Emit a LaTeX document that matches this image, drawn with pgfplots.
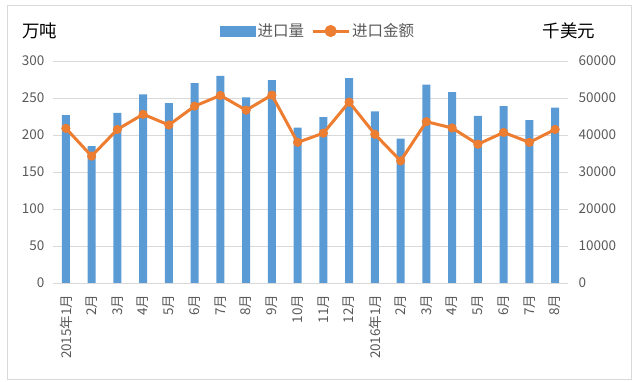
\documentclass[border=0pt]{standalone}
\usepackage{pgfplots}
\pgfplotsset{compat=1.18}
\usepackage{fontspec}
\setmainfont{Noto Sans CJK SC}
\definecolor{barblue}{HTML}{5B9BD5}
\definecolor{lineorange}{HTML}{ED7D31}
\definecolor{gridgray}{HTML}{D9D9D9}
\definecolor{ticktext}{HTML}{595959}
\begin{document}
\begin{tikzpicture}[x=1pt,y=1pt]
\useasboundingbox (0,0) rectangle (635,382);
\draw[gridgray, line width=1pt] (7,2) rectangle (631,376);
\pgfplotsset{common/.style={scale only axis, width=515pt, height=222pt, at={(53pt,99pt)}, anchor=south west,
  xmin=-0.5, xmax=19.5, major tick length=0,
  tick label style={font=\fontsize{13.5}{15}\selectfont, text=ticktext},
  /pgf/number format/assume math mode=true, scaled y ticks=false,
  /pgf/number format/1000 sep={}}}
\begin{axis}[common, ybar, bar width=8pt, ymin=0, ymax=300, ytick={0,50,...,300},
  ymajorgrids, grid style={gridgray, line width=0.8pt},
  axis x line*=bottom, axis y line*=left, y axis line style={draw=none},
  x axis line style={gridgray, line width=0.8pt, -},
  xtick={0,...,19},
  xticklabels={2015年1月,2月,3月,4月,5月,6月,7月,8月,9月,10月,11月,12月,2016年1月,2月,3月,4月,5月,6月,7月,8月},
  x tick label style={rotate=90, anchor=east}, xticklabel shift=8pt, yticklabel shift=5pt]
\addplot[fill=barblue, draw=none] coordinates {
(0,227) (1,185) (2,230) (3,255) (4,243) (5,270) (6,280) (7,251) (8,274) (9,210)
(10,224) (11,277) (12,232) (13,195) (14,268) (15,258) (16,226) (17,239) (18,220) (19,237)};
\end{axis}
\begin{axis}[common, ymin=0, ymax=60000, ytick={0,10000,...,60000},
  axis y line*=right, y axis line style={draw=none}, axis x line=none,
  yticklabel shift=7pt,
  legend style={at={(0.515,1.135)}, anchor=center, draw=none, fill=none, legend columns=2,
    font=\fontsize{15.5}{18}\selectfont, text=ticktext,
    /tikz/every even column/.append style={column sep=5pt}}]
\addlegendimage{legend image code/.code={\fill[barblue] (0pt,-5pt) rectangle (35pt,5pt);}}
\addlegendentry{进口量}
\addplot[lineorange, line width=3pt, line join=round, mark=*, mark size=4.3pt,
  mark options={solid, fill=lineorange, draw=lineorange, line width=0.5pt},
  legend image code/.code={\draw[lineorange,line width=3pt] (0pt,0pt)--(36pt,0pt); \fill[lineorange] (18pt,0pt) circle (4.5pt);}]
  coordinates {
(0,41800) (1,34300) (2,41500) (3,45600) (4,42700) (5,47800) (6,50700) (7,46700) (8,50800) (9,38000)
(10,40500) (11,48900) (12,40200) (13,33000) (14,43600) (15,41900) (16,37500) (17,40700) (18,38000) (19,41500)};
\addlegendentry{进口金额}
\end{axis}
\node[font=\fontsize{17.5}{20}\selectfont] at (39.5,351) {万吨};
\node[font=\fontsize{17.5}{20}\selectfont] at (569,351) {千美元};
\end{tikzpicture}
\end{document}
